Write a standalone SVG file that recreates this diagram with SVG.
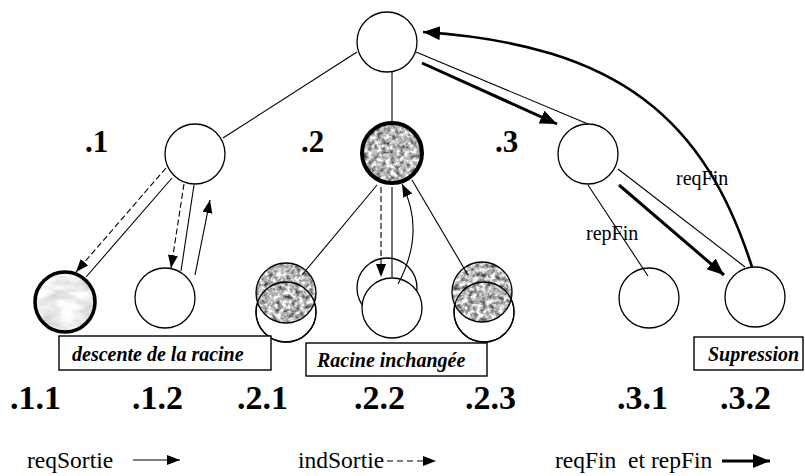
<svg xmlns="http://www.w3.org/2000/svg" width="805" height="476" viewBox="0 0 805 476">
<style>
.nd{fill:#fff;stroke:#000;stroke-width:1.3}
.ol{fill:none;stroke:#000;stroke-width:1.3}
.tk{fill:none;stroke:#000;stroke-width:4}
.ln{fill:none;stroke:#000;stroke-width:1.1}
.ds{fill:none;stroke:#000;stroke-width:1.1;stroke-dasharray:6 3}
.th{fill:none;stroke:#000;stroke-width:3}
.lbl{font-family:"Liberation Serif","DejaVu Serif",serif;font-weight:bold;font-size:34px;fill:#000}
.lbt{font-family:"Liberation Serif","DejaVu Serif",serif;font-weight:bold;font-size:31px;fill:#000}
.box{fill:#fff;stroke:#000;stroke-width:1.4}
.bt{font-family:"Liberation Serif","DejaVu Serif",serif;font-weight:bold;font-style:italic;font-size:20px;fill:#000}
.sm{font-family:"Liberation Serif","DejaVu Serif",serif;font-size:20px;fill:#000}
.lg{font-family:"Liberation Serif","DejaVu Serif",serif;font-size:23.5px;fill:#000;white-space:pre}
</style>
<defs>
<filter id="granite" color-interpolation-filters="sRGB">
<feTurbulence type="fractalNoise" baseFrequency="0.22" numOctaves="3" seed="7" result="t"/>
<feColorMatrix in="t" type="matrix" values="1 0 0 0 0  1 0 0 0 0  1 0 0 0 0  0 0 0 0 1" result="g"/>
<feComponentTransfer in="g" result="c">
<feFuncR type="linear" slope="1.4" intercept="0.02"/>
<feFuncG type="linear" slope="1.4" intercept="0.02"/>
<feFuncB type="linear" slope="1.4" intercept="0.02"/>
</feComponentTransfer>
<feComposite in="c" in2="SourceGraphic" operator="in"/>
</filter>
<filter id="marble" color-interpolation-filters="sRGB">
<feTurbulence type="fractalNoise" baseFrequency="0.05 0.1" numOctaves="3" seed="3" result="t"/>
<feColorMatrix in="t" type="matrix" values="1 0 0 0 0  1 0 0 0 0  1 0 0 0 0  0 0 0 0 1" result="g"/>
<feComponentTransfer in="g" result="c">
<feFuncR type="linear" slope="0.35" intercept="0.76"/>
<feFuncG type="linear" slope="0.35" intercept="0.76"/>
<feFuncB type="linear" slope="0.35" intercept="0.76"/>
</feComponentTransfer>
<feComposite in="c" in2="SourceGraphic" operator="in"/>
</filter>
<marker id="ah" markerUnits="userSpaceOnUse" markerWidth="14" markerHeight="12" refX="13" refY="5" orient="auto">
<path d="M0,0 L13,5 L0,10 z" fill="#000"/>
</marker>
<marker id="ab" markerUnits="userSpaceOnUse" markerWidth="18" markerHeight="16" refX="17" refY="7" orient="auto">
<path d="M0,0 L17,7 L0,14 z" fill="#000"/>
</marker>
</defs>
<rect width="805" height="476" fill="#fff"/>

<g id="root"><circle class="nd" cx="387" cy="42" r="30"/></g>

<g id="n1"><circle class="nd" cx="195" cy="154" r="30"/><text class="lbt" x="85" y="152">.1</text></g>
<g id="n2"><circle cx="392" cy="153" r="30" fill="#999" filter="url(#granite)"/><circle class="tk" cx="392" cy="153" r="30"/><text class="lbt" x="301" y="152">.2</text></g>
<g id="n3"><circle class="nd" cx="588" cy="154" r="30"/><text class="lbt" x="495" y="152">.3</text></g>

<g id="n11"><circle cx="65" cy="302" r="30" fill="#ddd" filter="url(#marble)"/><circle fill="none" stroke="#000" stroke-width="3.6" cx="65" cy="302" r="30"/><text class="lbl" x="10" y="409">.1.1</text></g>
<g id="n12"><circle class="nd" cx="165" cy="298" r="30"/><text class="lbl" x="132" y="409">.1.2</text></g>
<g id="n21"><circle class="nd" cx="286" cy="312" r="30"/><circle cx="286" cy="293" r="30" fill="#999" filter="url(#granite)"/><circle class="ol" cx="286" cy="293" r="30"/><circle class="ol" cx="286" cy="312" r="30"/><text class="lbl" x="237" y="409">.2.1</text></g>
<g id="n22"><circle class="nd" cx="387" cy="288" r="30"/><circle class="nd" cx="392" cy="308" r="30"/><text class="lbl" x="354" y="409">.2.2</text></g>
<g id="n23"><circle class="nd" cx="484" cy="312" r="30"/><circle cx="482" cy="292" r="30" fill="#999" filter="url(#granite)"/><circle class="ol" cx="482" cy="292" r="30"/><circle class="ol" cx="484" cy="312" r="30"/><text class="lbl" x="465" y="409">.2.3</text></g>
<g id="n31"><circle class="nd" cx="649" cy="298" r="30"/><text class="lbl" x="617" y="409">.3.1</text></g>
<g id="n32"><circle class="nd" cx="755" cy="297" r="30"/><text class="lbl" x="720" y="409">.3.2</text></g>

<g id="connectors">
<line class="ln" x1="357" y1="52" x2="223" y2="138"/>
<line class="ln" x1="392" y1="72" x2="392" y2="123"/>
<line class="ln" x1="416" y1="52" x2="588" y2="124"/>
<line class="th" x1="422" y1="63" x2="557" y2="124" marker-end="url(#ab)"/>
<path class="th" style="stroke-width:2.6" d="M752,267 C705,120 620,45 423,32" marker-end="url(#ab)"/>
<line class="ln" x1="172" y1="178" x2="86" y2="277"/>
<line class="ds" x1="166" y1="168" x2="76" y2="272" marker-end="url(#ah)"/>
<line class="ds" x1="184" y1="184" x2="171" y2="268" marker-end="url(#ah)"/>
<line class="ln" x1="194" y1="185" x2="181" y2="271"/>
<line class="ln" x1="195" y1="275" x2="210" y2="200" marker-end="url(#ah)"/>
<line class="ln" x1="377" y1="185" x2="302" y2="275"/>
<line class="ln" x1="412" y1="180" x2="468" y2="275"/>
<line class="ln" x1="392" y1="187" x2="392" y2="277"/>
<line class="ds" x1="381" y1="187" x2="381" y2="277" marker-end="url(#ah)"/>
<path class="ln" d="M398,284 Q426,232 402,184" marker-end="url(#ah)"/>
<line class="ln" x1="588" y1="185" x2="648" y2="276"/>
<line class="ln" x1="618" y1="169" x2="745" y2="267"/>
<line class="th" x1="619" y1="185" x2="724" y2="275" marker-end="url(#ab)"/>
<text class="sm" x="586" y="240">repFin</text>
<text class="sm" x="676" y="185">reqFin</text>
</g>

<g id="boxes">
<rect class="box" x="59" y="336" width="212" height="34"/>
<text class="bt" x="72" y="361">descente de la racine</text>
<rect class="box" x="306" y="343" width="181" height="33"/>
<text class="bt" x="317" y="367">Racine inchangée</text>
<rect class="box" x="694" y="337" width="109" height="33"/>
<text class="bt" x="708" y="361">Supression</text>
</g>

<g id="legend">
<text class="lg" x="27" y="468">reqSortie</text>
<line class="ln" x1="133" y1="460" x2="180" y2="460" marker-end="url(#ah)"/>
<text class="lg" x="298" y="468">indSortie</text>
<line class="ln" style="stroke-dasharray:6 4" x1="387" y1="461" x2="436" y2="461" marker-end="url(#ah)"/>
<text class="lg" x="555" y="468">reqFin  et repFin</text>
<line class="th" x1="722" y1="461" x2="770" y2="461" marker-end="url(#ab)"/>
</g>
</svg>
